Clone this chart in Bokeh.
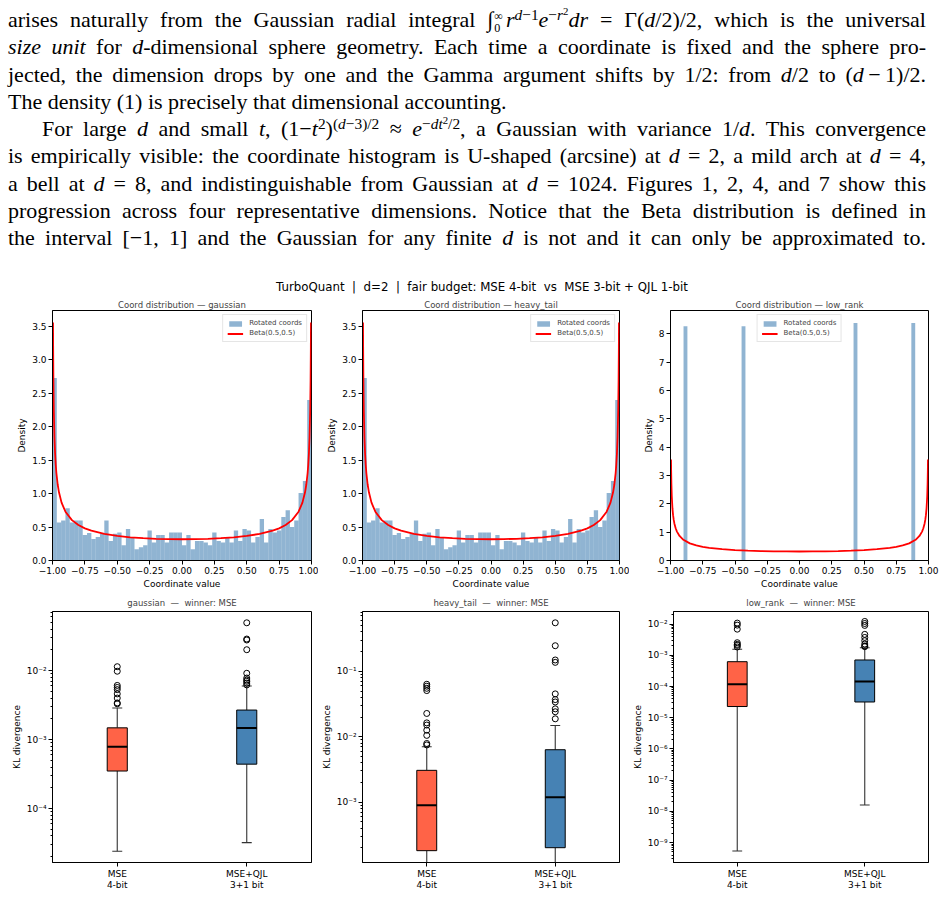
import numpy as np
from bokeh.plotting import figure
from bokeh.models import Div, Range1d, FixedTicker, Legend, LegendItem
from bokeh.layouts import column, row
from bokeh.embed import file_html
from bokeh.resources import INLINE

# ------------------------------------------------------------------ data
dists = ["gaussian", "heavy_tail", "low_rank"]

coord_ticks = [-1.0, -0.75, -0.5, -0.25, 0.0, 0.25, 0.5, 0.75, 1.0]
coord_tick_labels = ["\u22121.00", "\u22120.75", "\u22120.50", "\u22120.25", "0.00",
                     "0.25", "0.50", "0.75", "1.00"]
density_ticks = [0.0, 0.5, 1.0, 1.5, 2.0, 2.5, 3.0, 3.5]
density_tick_labels = ["0.0", "0.5", "1.0", "1.5", "2.0", "2.5", "3.0", "3.5"]
lowrank_ticks = [0, 1, 2, 3, 4, 5, 6, 7, 8]
lowrank_tick_labels = ["0", "1", "2", "3", "4", "5", "6", "7", "8"]

# histogram densities (60 equal bins on [-1, 1])
hist_gaussian = [2.73, 0.57, 0.60, 0.78, 0.57, 0.60, 0.60, 0.38, 0.41, 0.32,
                 0.35, 0.40, 0.60, 0.29, 0.40, 0.42, 0.23, 0.47, 0.35, 0.17,
                 0.20, 0.23, 0.45, 0.27, 0.38, 0.38, 0.27, 0.42, 0.42, 0.42,
                 0.23, 0.38, 0.17, 0.29, 0.29, 0.27, 0.23, 0.42, 0.29, 0.27,
                 0.35, 0.27, 0.45, 0.29, 0.47, 0.45, 0.27, 0.35, 0.62, 0.27,
                 0.47, 0.42, 0.45, 0.65, 0.75, 0.50, 0.60, 1.01, 1.19, 2.40]
hist_heavy_tail = [2.73, 0.57, 0.60, 0.78, 0.57, 0.60, 0.60, 0.38, 0.41, 0.32,
                   0.35, 0.40, 0.60, 0.29, 0.40, 0.42, 0.23, 0.47, 0.35, 0.17,
                   0.20, 0.23, 0.45, 0.27, 0.38, 0.38, 0.27, 0.42, 0.42, 0.42,
                   0.23, 0.38, 0.17, 0.29, 0.29, 0.27, 0.23, 0.42, 0.29, 0.27,
                   0.35, 0.27, 0.45, 0.29, 0.47, 0.45, 0.27, 0.35, 0.62, 0.27,
                   0.47, 0.42, 0.45, 0.65, 0.75, 0.50, 0.60, 1.01, 1.19, 2.40]
# low_rank: four occupied bins
lowrank_left = [-0.899, -0.449, 0.419, 0.867]
lowrank_right = [-0.869, -0.419, 0.449, 0.897]
lowrank_density = [8.26, 8.26, 8.38, 8.38]

# Beta(0.5,0.5) reference curve on [-1, 1]
beta_x = [-0.996, -0.995, -0.993, -0.99, -0.985, -0.98, -0.975, -0.97, -0.96, -0.95,
          -0.93, -0.9, -0.85, -0.8, -0.75, -0.7, -0.6, -0.5, -0.4, -0.3, -0.2, -0.1,
          0.0,
          0.1, 0.2, 0.3, 0.4, 0.5, 0.6, 0.7, 0.75, 0.8, 0.85, 0.9, 0.93, 0.95, 0.96,
          0.97, 0.975, 0.98, 0.985, 0.99, 0.993, 0.995, 0.996]
beta_y = [3.562, 3.187, 2.695, 2.256, 1.845, 1.600, 1.433, 1.309, 1.137, 1.020,
          0.866, 0.730, 0.604, 0.531, 0.481, 0.446, 0.398, 0.368, 0.347, 0.334, 0.325, 0.320,
          0.318,
          0.320, 0.325, 0.334, 0.347, 0.368, 0.398, 0.446, 0.481, 0.531, 0.604, 0.730, 0.866,
          1.020, 1.137, 1.309, 1.433, 1.600, 1.845, 2.256, 2.695, 3.187, 3.562]

# KL-divergence box statistics: [MSE 4-bit, MSE+QJL 3+1 bit]
methods = ["MSE\n4-bit", "MSE+QJL\n3+1 bit"]
box_colors = ["#FF6347", "#4682B4"]

gauss_whislo = [2.4e-5, 3.2e-5]
gauss_q1 = [3.5e-4, 4.4e-4]
gauss_med = [7.9e-4, 1.47e-3]
gauss_q3 = [1.48e-3, 2.68e-3]
gauss_whishi = [2.87e-3, 5.97e-3]
gauss_out_mse = [1.14e-2, 9.8e-3, 6.1e-3, 5.7e-3, 5.3e-3, 4.6e-3, 4.0e-3, 3.4e-3, 3.3e-3]
gauss_out_qjl = [4.94e-2, 2.87e-2, 2.78e-2, 2.01e-2, 9.15e-3, 7.8e-3, 7.3e-3, 7.0e-3,
                 6.6e-3, 6.2e-3]

heavy_whislo = [9e-5, 9e-5]
heavy_q1 = [1.82e-4, 2.02e-4]
heavy_med = [9.0e-4, 1.19e-3]
heavy_q3 = [3.07e-3, 6.34e-3]
heavy_whishi = [7.05e-3, 1.49e-2]
heavy_out_mse = [6.34e-2, 5.92e-2, 5.5e-2, 5.08e-2, 2.27e-2, 1.63e-2, 1.51e-2, 1.26e-2,
                 1.05e-2, 7.9e-3, 7.5e-3]
heavy_out_qjl = [0.551, 0.246, 0.149, 0.137, 4.52e-2, 3.7e-2, 3.4e-2, 2.67e-2, 2.41e-2,
                 1.88e-2]

low_whislo = [5.4e-10, 1.6e-8]
low_q1 = [2.29e-5, 3.2e-5]
low_med = [1.19e-4, 1.44e-4]
low_q3 = [6.26e-4, 7.1e-4]
low_whishi = [1.56e-3, 1.76e-3]
low_out_mse = [1.08e-2, 9.3e-3, 6.9e-3, 2.54e-3, 2.25e-3, 2.09e-3, 1.85e-3]
low_out_qjl = [1.22e-2, 1.05e-2, 9.1e-3, 4.7e-3, 3.75e-3, 2.95e-3, 2.3e-3, 2.0e-3, 1.9e-3]

log_tick_values = [1e-9, 1e-8, 1e-7, 1e-6, 1e-5, 1e-4, 1e-3, 1e-2, 1e-1]
log_tick_labels = ["10\u207b\u2079", "10\u207b\u2078", "10\u207b\u2077", "10\u207b\u2076",
                   "10\u207b\u2075", "10\u207b\u2074", "10\u207b\u00b3", "10\u207b\u00b2",
                   "10\u207b\u00b9"]

suptitle = "TurboQuant&nbsp; |&nbsp; d=2&nbsp; |&nbsp; fair budget: MSE 4-bit&nbsp; vs&nbsp; MSE 3-bit + QJL 1-bit"

# ------------------------------------------------------------------ text block
SUP = '<span style="font-size:70%;line-height:0;vertical-align:0.45em">'
E = "</span>"
LIMITS = ('<span style="display:inline-block;vertical-align:-0.45em;line-height:1.05;'
          'font-size:55%;text-align:left;margin:0 3px 0 1px;">'
          '<span style="display:block">\u221e</span><span style="display:block">0</span></span>')

lines = [
    ("j", f'arises naturally from the Gaussian radial integral \u222b{LIMITS}'
          f'<i>r</i>{SUP}<i>d</i>\u22121{E}<i>e</i>{SUP}\u2212<i>r</i>{SUP}2{E}{E}<i>dr</i> = '
          f'\u0393(<i>d</i>/2)/2, which is the universal'),
    ("j", '<i>size unit</i> for <i>d</i>-dimensional sphere geometry. Each time a coordinate '
          'is fixed and the sphere pro-'),
    ("j", 'jected, the dimension drops by one and the Gamma argument shifts by 1/2: from '
          '<i>d</i>/2 to (<i>d</i>\u2009\u2212\u20091)/2.'),
    ("l", 'The density (1) is precisely that dimensional accounting.'),
    ("i", f'For large <i>d</i> and small <i>t</i>, (1\u2212<i>t</i>{SUP}2{E}){SUP}(<i>d</i>\u22123)/2{E} '
          f'\u2248 <i>e</i>{SUP}\u2212<i>dt</i>{SUP}2{E}/2{E}, a Gaussian with variance 1/<i>d</i>. '
          'This convergence'),
    ("j", 'is empirically visible: the coordinate histogram is U-shaped (arcsine) at '
          '<i>d</i> = 2, a mild arch at <i>d</i> = 4,'),
    ("j", 'a bell at <i>d</i> = 8, and indistinguishable from Gaussian at <i>d</i> = 1024. '
          'Figures 1, 2, 4, and 7 show this'),
    ("j", 'progression across four representative dimensions. Notice that the Beta '
          'distribution is defined in'),
    ("j", 'the interval [\u22121, 1] and the Gaussian for any finite <i>d</i> is not and it '
          'can only be approximated to.'),
]

LH = "27.25px"
parts = []
for kind, txt in lines:
    base = f"height:{LH};line-height:{LH};white-space:nowrap;overflow:visible;"
    if kind == "l":
        st = base + "text-align:left;"
    elif kind == "i":
        st = base + "text-align:justify;text-align-last:justify;padding-left:34px;"
    else:
        st = base + "text-align:justify;text-align-last:justify;"
    parts.append(f'<div style="{st}">{txt}</div>')

html = ('<div style="width:934px;padding:6px 8px 0 8px;font-family:\'Liberation Serif\',serif;'
        'font-size:22px;color:#000;">' + "".join(parts) +
        '<div style="margin-top:28.75px;height:14px;line-height:14px;text-align:center;'
        'position:relative;left:15px;font-family:\'DejaVu Sans\',sans-serif;font-size:11.8px;'
        'white-space:nowrap;">' + suptitle + '</div></div>')

text_div = Div(text=html, width=950, height=296, margin=0)

# ------------------------------------------------------------------ helpers
FONT = "DejaVu Sans"


def style(p, standoff):
    p.title.text_font = FONT
    p.title.text_font_size = "8.5px"
    p.title.text_font_style = "normal"
    p.title.align = "center"
    p.title.standoff = standoff
    p.outline_line_color = "black"
    p.outline_line_alpha = 1.0
    p.outline_line_width = 1
    p.grid.visible = False
    p.background_fill_color = "white"
    p.border_fill_color = "white"
    for ax in list(p.xaxis) + list(p.yaxis):
        ax.major_label_text_font = FONT
        ax.major_label_text_font_size = "9px"
        ax.major_label_text_color = "black"
        ax.axis_label_text_font = FONT
        ax.axis_label_text_font_size = "9px"
        ax.axis_label_text_font_style = "normal"
        ax.axis_label_text_color = "black"
        ax.axis_label_standoff = 2
        ax.major_label_standoff = 2
        ax.major_tick_out = 4
        ax.major_tick_in = 0
        ax.minor_tick_out = 2
        ax.minor_tick_in = 0
        ax.axis_line_color = "black"
        ax.major_tick_line_color = "black"
        ax.minor_tick_line_color = "black"


edges = np.linspace(-1.0, 1.0, len(hist_gaussian) + 1)

top_geom = [(318, 52, 7), (311, 44, 10), (321, 41, 22)]
bot_geom = [(318, 52, 7), (311, 43, 10), (321, 42, 22)]


def top_fig(i):
    w, l, r = top_geom[i]
    ymax = 8.82 if dists[i] == "low_rank" else 3.74
    p = figure(width=w, height=295, x_range=Range1d(-1, 1), y_range=Range1d(0, ymax),
               output_backend="svg", toolbar_location=None,
               min_border_left=l, min_border_right=r, min_border_top=14, min_border_bottom=29,
               title="Coord distribution \u2014 " + dists[i])
    style(p, 2)
    if dists[i] == "low_rank":
        hr = p.quad(left=lowrank_left, right=lowrank_right, bottom=0, top=lowrank_density,
                    fill_color="steelblue", fill_alpha=0.6, line_color=None)
        p.yaxis.ticker = FixedTicker(ticks=lowrank_ticks, minor_ticks=[])
        p.yaxis.major_label_overrides = dict(zip(lowrank_ticks, lowrank_tick_labels))
        loc = "top_center"
    else:
        vals = hist_gaussian if dists[i] == "gaussian" else hist_heavy_tail
        hr = p.quad(left=edges[:-1], right=edges[1:], bottom=0, top=vals,
                    fill_color="steelblue", fill_alpha=0.6, line_color=None)
        p.yaxis.ticker = FixedTicker(ticks=density_ticks, minor_ticks=[])
        p.yaxis.major_label_overrides = dict(zip(density_ticks, density_tick_labels))
        loc = "top_right"
    lr = p.line(beta_x, beta_y, line_color="red", line_width=1.8)
    p.xaxis.ticker = FixedTicker(ticks=coord_ticks, minor_ticks=[])
    p.xaxis.major_label_overrides = dict(zip(coord_ticks, coord_tick_labels))
    p.xaxis.axis_label = "Coordinate value"
    p.yaxis.axis_label = "Density"
    leg = Legend(items=[LegendItem(label="Rotated coords", renderers=[hr]),
                        LegendItem(label="Beta(0.5,0.5)", renderers=[lr])],
                 location=loc, label_text_font=FONT, label_text_font_size="7px",
                 glyph_width=16, glyph_height=7, label_height=8, label_standoff=6,
                 spacing=2, padding=4, margin=4, border_line_color="#cccccc",
                 border_line_width=1, background_fill_alpha=0.85)
    p.add_layout(leg)
    return p


box_data = {
    "gaussian": (gauss_whislo, gauss_q1, gauss_med, gauss_q3, gauss_whishi,
                 gauss_out_mse, gauss_out_qjl, (1.65e-5, 0.072)),
    "heavy_tail": (heavy_whislo, heavy_q1, heavy_med, heavy_q3, heavy_whishi,
                   heavy_out_mse, heavy_out_qjl, (1.2e-4, 0.82)),
    "low_rank": (low_whislo, low_q1, low_med, low_q3, low_whishi,
                 low_out_mse, low_out_qjl, (2.3e-10, 0.0254)),
}


def box_fig(i):
    w, l, r = bot_geom[i]
    wlo, q1, med, q3, whi, o1, o2, (ylo, yhi) = box_data[dists[i]]
    p = figure(width=w, height=301, x_range=Range1d(0.5, 2.5), y_range=Range1d(ylo, yhi),
               y_axis_type="log", output_backend="svg", toolbar_location=None,
               min_border_left=l, min_border_right=r, min_border_top=20, min_border_bottom=30,
               title=dists[i] + "\u00a0 \u2014\u00a0 winner: MSE")
    style(p, 8)
    xs = [1, 2]
    bw = 0.155
    cw = 0.0385
    wc = "#333333"
    p.segment(x0=xs, y0=wlo, x1=xs, y1=q1, line_color=wc, line_width=1.1)
    p.segment(x0=xs, y0=q3, x1=xs, y1=whi, line_color=wc, line_width=1.1)
    p.segment(x0=[x - cw for x in xs], y0=wlo, x1=[x + cw for x in xs], y1=wlo,
              line_color=wc, line_width=1.1)
    p.segment(x0=[x - cw for x in xs], y0=whi, x1=[x + cw for x in xs], y1=whi,
              line_color=wc, line_width=1.1)
    p.vbar(x=xs, width=bw, bottom=q1, top=q3, fill_color=box_colors, line_color="black",
           line_width=1)
    p.segment(x0=[x - bw / 2 for x in xs], y0=med, x1=[x + bw / 2 for x in xs], y1=med,
              line_color="black", line_width=2)
    for x, outs in zip(xs, (o1, o2)):
        p.scatter(x=[x] * len(outs), y=outs, marker="circle", size=6, fill_color=None,
                  line_color="black", line_width=1)
    decs = [t for t in log_tick_values if ylo <= t <= yhi]
    minors = []
    for t in [1e-10] + log_tick_values:
        for k in range(2, 10):
            v = t * k
            if ylo <= v <= yhi:
                minors.append(v)
    p.yaxis.ticker = FixedTicker(ticks=decs, minor_ticks=minors)
    p.yaxis.major_label_overrides = dict(zip(log_tick_values, log_tick_labels))
    p.xaxis.ticker = FixedTicker(ticks=xs, minor_ticks=[])
    p.xaxis.major_label_overrides = dict(zip(xs, methods))
    p.xaxis.major_label_text_line_height = 1.1
    p.yaxis.axis_label = "KL divergence"
    return p


top = row([top_fig(i) for i in range(3)], spacing=0)
bot = row([box_fig(i) for i in range(3)], spacing=0)
page = column([text_div, top, bot], spacing=0)

open("out.html", "w").write(file_html(page, INLINE))
